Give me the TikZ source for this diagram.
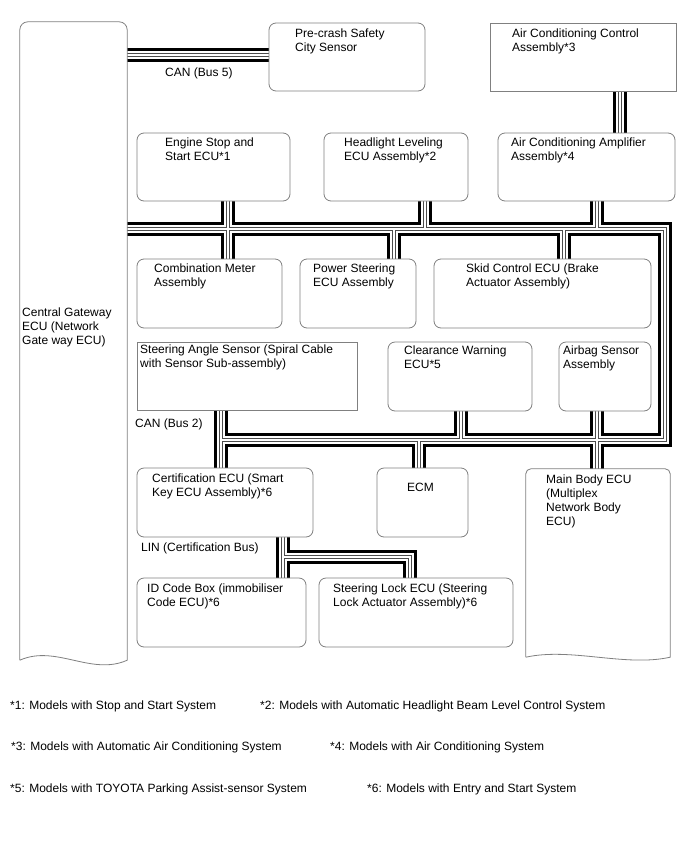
\documentclass[tikz,border=0pt]{standalone}
\usepackage{fontspec}
\setmainfont{Liberation Sans}
\usetikzlibrary{fit,backgrounds}

\tikzset{
  ecu/.style={draw=black!50, line width=0.8pt, rounded corners=7pt, fill=white, inner sep=0pt},
  ecusq/.style={ecu, sharp corners},
  docbox/.style={inner sep=0pt},
  docline/.style={draw=black!50, line width=0.8pt, fill=white},
  lbl/.style={anchor=north west, align=left, inner sep=0pt, font=\fontsize{12}{14}\selectfont},
  note/.style={anchor=base west, inner sep=0pt, font=\fontsize{12}{14}\selectfont},
}

% all bus wires, drawn once per layer
\newcommand\buswires{
  \draw (gw.east |- b5) -- (pcs.west |- b5);
  \draw (gw.east |- ne) -- (ne) -- (se) -- (sw);
  \draw (es.south -| jes) -- (cm.north -| jes);
  \draw (hl.south -| jhl) -- (jhl);
  \draw (jps) -- (ps.north -| jps);
  \draw (aca.south -| jaca) -- (jaca);
  \draw (jsk) -- (skid.north -| jsk);
  \draw (acc.south -| jac) -- (aca.north -| jac);
  \draw (sas.south -| sw) -- (cert.north -| sw);
  \draw (cw.south -| jcw) -- (jcw);
  \draw (ab.south -| jab) -- (mb.north -| jab);
  \draw (jecm) -- (ecm.north -| jecm);
  \draw (cert.south -| jl) -- (idb.north -| jl);
  \draw (jl) -- (jlr) -- (sl.north -| jlr);
}

\begin{document}
\begin{tikzpicture}[x=1pt,y=-1pt]
  \useasboundingbox (0,0) rectangle (688,852);

  % gateway and main body (document shapes)
  \node[docbox, fit={(20,22) (127,660)}] (gw) {};
  \draw[docline] (gw.south west) [rounded corners=8pt] -- (gw.north west) -- (gw.north east)
    [sharp corners] -- (gw.south east) .. controls +(-36,16) and +(36,-16) .. (gw.south west);
  \node[docbox, fit={(526,469) (670,657)}] (mb) {};
  \draw[docline] (mb.south west) [rounded corners=5pt] -- (mb.north west) -- (mb.north east)
    [sharp corners] -- (mb.south east) .. controls +(-45,10) and +(45,-10) .. (mb.south west);

  % ECU boxes
  \node[ecu, fit={(269,23) (425,91)}] (pcs) {};
  \node[ecusq, fit={(490,23) (676,91)}] (acc) {};
  \node[ecu, fit={(137,133) (290,201)}] (es) {};
  \node[ecu, fit={(324,133) (468,201)}] (hl) {};
  \node[ecu, fit={(498,133) (675,201)}] (aca) {};
  \node[ecu, fit={(137,259) (282,328)}] (cm) {};
  \node[ecu, fit={(300,259) (416,328)}] (ps) {};
  \node[ecu, fit={(434,259) (651,328)}] (skid) {};
  \node[ecusq, fit={(137,342) (357,410)}] (sas) {};
  \node[ecu, fit={(388,342) (532,411)}] (cw) {};
  \node[ecu, fit={(559,342) (651,411)}] (ab) {};
  \node[ecu, fit={(137,468) (313,537)}] (cert) {};
  \node[ecu, fit={(377,468) (468,537)}] (ecm) {};
  \node[ecu, fit={(137,578) (306,647)}] (idb) {};
  \node[ecu, fit={(319,578) (513,647)}] (sl) {};

  % labels
  \node[lbl] (gwl) at (22,307.5) {Central Gateway\\ECU (Network\\Gate way ECU)};
  \node[lbl] (pcsl) at (295,28.5) {Pre-crash Safety\\City Sensor};
  \node[lbl] (accl) at (512,28.5) {Air Conditioning Control\\Assembly*3};
  \node[lbl] (esl) at (165,137.5) {Engine Stop and\\Start ECU*1};
  \node[lbl] (hll) at (344,137.5) {Headlight Leveling\\ECU Assembly*2};
  \node[lbl] (acal) at (511,137.5) {Air Conditioning Amplifier\\Assembly*4};
  \node[lbl] (cml) at (154,263.5) {Combination Meter\\Assembly};
  \node[lbl] (psl) at (313,263.5) {Power Steering\\ECU Assembly};
  \node[lbl] (skidl) at (466,263.5) {Skid Control ECU (Brake\\Actuator Assembly)};
  \node[lbl] (sasl) at (140,344.5) {Steering Angle Sensor (Spiral Cable\\with Sensor Sub-assembly)};
  \node[lbl] (cwl) at (404,345.5) {Clearance Warning\\ECU*5};
  \node[lbl] (abl) at (563,345.5) {Airbag Sensor\\Assembly};
  \node[lbl] (certl) at (152,473.5) {Certification ECU (Smart\\Key ECU Assembly)*6};
  \node[lbl] (ecml) at (407,482.5) {ECM};
  \node[lbl] (mbl) at (546,474.5) {Main Body ECU\\(Multiplex\\Network Body\\ECU)};
  \node[lbl] (idbl) at (147,583.5) {ID Code Box (immobiliser\\Code ECU)*6};
  \node[lbl] (sll) at (333,583.5) {Steering Lock ECU (Steering\\Lock Actuator Assembly)*6};
  \node[lbl] (can5) at (165,67.5) {CAN (Bus 5)};
  \node[lbl] (can2) at (135,418.5) {CAN (Bus 2)};
  \node[lbl] (lin) at (141,542.5) {LIN (Certification Bus)};

  % notes
  \node[note] (fn1) at (10,709.3) {*1: Models with Stop and Start System};
  \node[note] (fn2) at (260,709.3) {*2: Models with Automatic Headlight Beam Level Control System};
  \node[note] (fn3) at (11,750.3) {*3: Models with Automatic Air Conditioning System};
  \node[note] (fn4) at (330,750.3) {*4: Models with Air Conditioning System};
  \node[note] (fn5) at (10,792.3) {*5: Models with TOYOTA Parking Assist-sensor System};
  \node[note] (fn6) at (367,792.3) {*6: Models with Entry and Start System};

  % bus points
  \coordinate (b5) at (0,55);
  \coordinate (ne) at (665,229);
  \coordinate (se) at (665,440);
  \coordinate (sw) at (221,440);
  \coordinate (jes) at (228,229);
  \coordinate (jhl) at (424.5,229);
  \coordinate (jps) at (393.5,229);
  \coordinate (jaca) at (597,229);
  \coordinate (jsk) at (564,229);
  \coordinate (jac) at (619.5,0);
  \coordinate (jcw) at (461,440);
  \coordinate (jab) at (597,440);
  \coordinate (jecm) at (419,440);
  \coordinate (jl) at (283,557);
  \coordinate (jlr) at (410,557);

  \begin{pgfonlayer}{background}
    \fill[white] (0,0) rectangle (688,852);
    \foreach \w/\c in {14/black, 8/white, 4/black!70, 2/white} {
      \begin{scope}[line width=\w pt, color=\c]
        \buswires
      \end{scope}
    }
  \end{pgfonlayer}
\end{tikzpicture}
\end{document}
